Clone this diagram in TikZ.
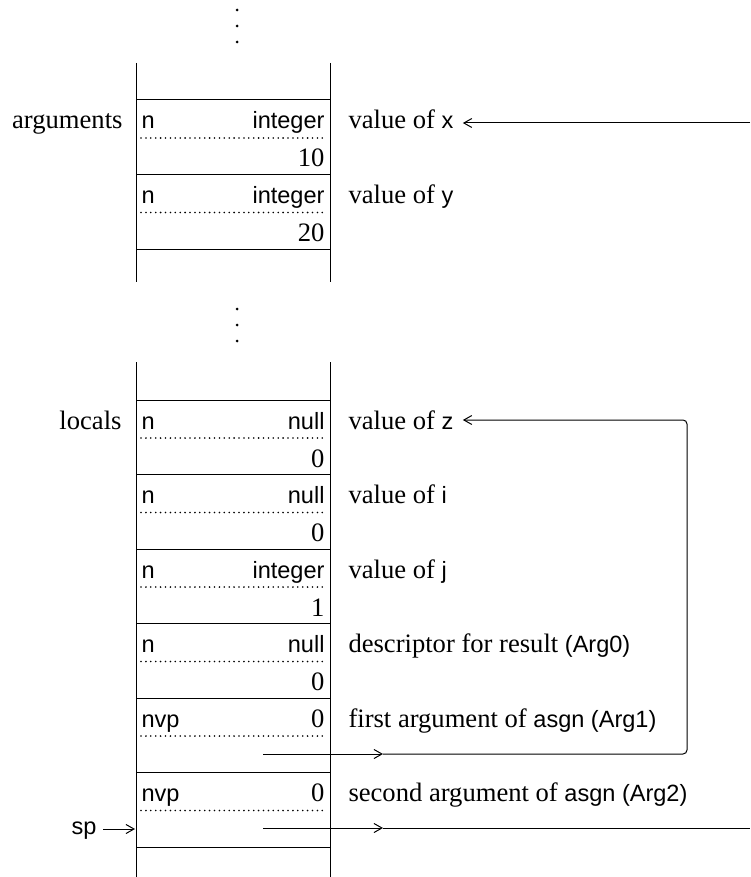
\documentclass[tikz,border=0pt]{standalone}
\usepackage{fontspec}
\setmainfont{Liberation Serif}
\setsansfont{Liberation Sans}[Scale=0.885]
\usetikzlibrary{arrows.meta}
\newcommand{\code}[1]{\textsf{#1}}

\begin{document}
\begin{tikzpicture}[x=0.5pt,y=-0.5pt,line width=0.5pt,
		every node/.style={inner sep=0pt,font=\fontsize{13.3}{16}\selectfont},
		tag/.style={anchor=base west},
		kind/.style={anchor=base east},
		ptr/.style={-{Straight Barb[length=4pt,width=4.5pt]}},
		sepline/.style={line width=0.9pt,line cap=round,dash pattern=on 0pt off 2.45pt}]
	\useasboundingbox (0,0) rectangle (750,877);
	\foreach \y in {10,26,42,309,325,341} \fill (237,\y) circle (0.75pt);
	\draw (136,63) -- (136,282) (330,63) -- (330,282);
	\draw (136,362) -- (136,877) (330,362) -- (330,877);
	\foreach \y in {100,174.5,249,400,474.5,549,623.5,698,772.5,847} \draw (136,\y) -- (330,\y);
	\foreach \t/\tg/\kd/\vl/\lab [count=\i] in {
			100/n/\code{integer}/10/{value of \code{x}},
			174.5/n/\code{integer}/20/{value of \code{y}},
			400/n/\code{null}/0/{value of \code{z}},
			474.5/n/\code{null}/0/{value of \code{i}},
			549/n/\code{integer}/1/{value of \code{j}},
			623.5/n/\code{null}/0/{descriptor for result \code{(Arg0)}},
			698/nvp/0//{first argument of \code{asgn (Arg1)}},
			772.5/nvp/0//{second argument of \code{asgn (Arg2)}}}{
		\node[tag] (tag\i) at (141,\t+29) {\code{\tg}};
		\node[kind] (kind\i) at (325,\t+29) {\kd};
		\node[kind] (val\i) at (325,\t+67) {\vl};
		\draw[sepline] (141,\t+38) -- (327,\t+38);
		\node[tag] (lab\i) at (348,\t+29) {\lab};
	}
	\node[kind] (args) at (123,129) {arguments};
	\node[kind] (locals) at (122,429) {locals};
	\node[kind] (sp) at (97,834) {\code{sp}};
	\coordinate (xsrc) at (750,123);
	\coordinate (zin) at (687,420);
	\coordinate (p1) at (263,754);
	\coordinate (p1m) at (383,754);
	\coordinate (p1c) at (687,754);
	\coordinate (p2) at (263,828);
	\coordinate (p2m) at (383,828);
	\coordinate (p2e) at (750,828);
	\coordinate (spat) at (135,829);
	\draw[ptr,shorten >=4.5pt] (xsrc) -- (xsrc -| lab1.east);
	\draw[ptr] (p1) -- (p1m);
	\draw[ptr,rounded corners=2pt,shorten >=4.5pt] (p1m) -- (p1c) -- (zin) -- (zin -| lab3.east);
	\draw[ptr] (p2) -- (p2m);
	\draw (p2m) -- (p2e);
	\draw[ptr,shorten <=3pt] (sp.east |- spat) -- (spat);
\end{tikzpicture}
\end{document}
